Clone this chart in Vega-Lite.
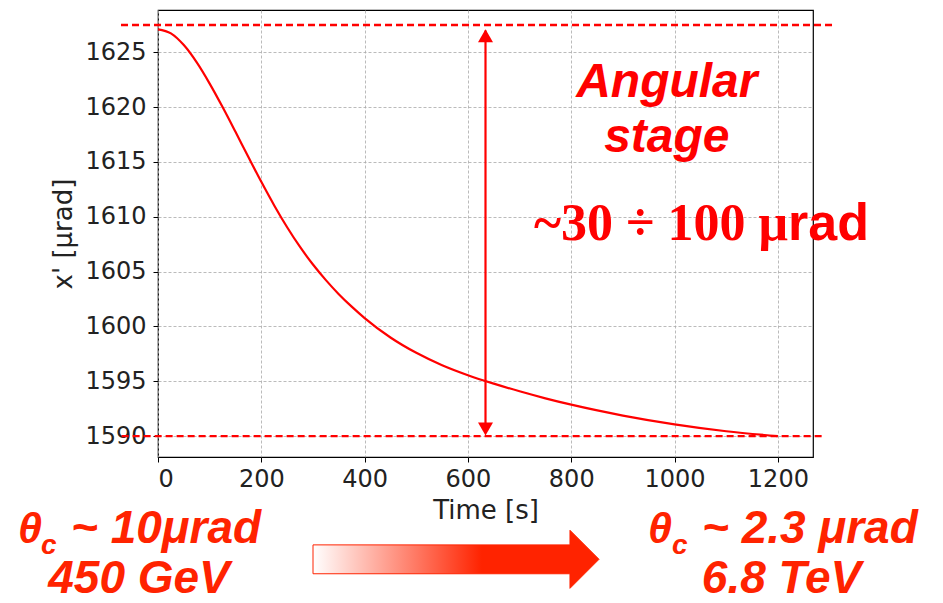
{
  "$schema": "https://vega.github.io/schema/vega-lite/v6.json",
  "width": 655,
  "height": 447,
  "autosize": {"type": "none"},
  "padding": {"left": 158, "top": 10, "right": 130, "bottom": 146},
  "background": "white",
  "config": {
    "view": {"stroke": "black", "strokeWidth": 1.2},
    "axis": {
      "domain": false,
      "grid": true,
      "gridColor": "#aaaaaa",
      "gridDash": [3, 2],
      "gridWidth": 0.8,
      "tickColor": "black",
      "tickSize": 5,
      "tickWidth": 1,
      "labelFont": "DejaVu Sans",
      "labelFontSize": 24,
      "labelColor": "#222222",
      "titleFont": "DejaVu Sans",
      "titleFontSize": 26,
      "titleFontWeight": "normal",
      "titleColor": "#222222"
    }
  },
  "datasets": {
    "curve": [
      {"t": 0, "v": 1627.1},
      {"t": 25, "v": 1626.73},
      {"t": 50, "v": 1625.66},
      {"t": 75, "v": 1624.08},
      {"t": 100, "v": 1622.15},
      {"t": 125, "v": 1620.01},
      {"t": 150, "v": 1617.75},
      {"t": 175, "v": 1615.45},
      {"t": 200, "v": 1613.19},
      {"t": 225, "v": 1611.04},
      {"t": 250, "v": 1609.05},
      {"t": 275, "v": 1607.25},
      {"t": 300, "v": 1605.65},
      {"t": 325, "v": 1604.23},
      {"t": 350, "v": 1602.95},
      {"t": 375, "v": 1601.81},
      {"t": 400, "v": 1600.77},
      {"t": 450, "v": 1599.0},
      {"t": 500, "v": 1597.6},
      {"t": 550, "v": 1596.47},
      {"t": 600, "v": 1595.56},
      {"t": 650, "v": 1594.79},
      {"t": 700, "v": 1594.09},
      {"t": 750, "v": 1593.45},
      {"t": 800, "v": 1592.87},
      {"t": 900, "v": 1591.88},
      {"t": 1000, "v": 1591.08},
      {"t": 1100, "v": 1590.45},
      {"t": 1200, "v": 1590.0}
    ],
    "hlines": [
      {"x": -71.6, "x2": 1306.7, "y": 1627.49},
      {"x": -70.4, "x2": 1285.4, "y": 1590.0}
    ],
    "vline": [{"x": 634, "y": 1627.0, "y2": 1590.3}],
    "heads": [
      {"x": 634, "y": 1626.51, "dir": "up"},
      {"x": 634, "y": 1590.65, "dir": "down"}
    ],
    "stage": [
      {"x": 985, "y": 1620.92, "label": "Angular"},
      {"x": 985, "y": 1615.93, "label": "stage"}
    ],
    "rangeSerif": [{"x": 1219.6, "y": 1607.87, "label": "~30 ÷ 100 μ"}],
    "rangeSans": [{"x": 1219.6, "y": 1607.87, "label": "rad"}],
    "theta": [
      {"x": -271.0, "y": 1580.23, "label": "θ"},
      {"x": 948.6, "y": 1580.23, "label": "θ"}
    ],
    "sub": [
      {"x": -226.5, "y": 1579.3, "label": "c"},
      {"x": 995.0, "y": 1579.3, "label": "c"}
    ],
    "line1": [
      {"x": -168.4, "y": 1580.23, "label": "~ 10μrad"},
      {"x": 1053.2, "y": 1580.23, "label": "~ 2.3 μrad"}
    ],
    "line2": [
      {"x": -36.8, "y": 1575.66, "label": "450 GeV"},
      {"x": 1207.0, "y": 1575.66, "label": "6.8 TeV"}
    ],
    "bigArrow": [{"x": 576.9, "y": 1578.77}]
  },
  "layer": [
    {
      "data": {"name": "curve"},
      "mark": {"type": "line", "color": "#ff0000", "strokeWidth": 2.2, "interpolate": "monotone"},
      "encoding": {
        "x": {
          "field": "t", "type": "quantitative",
          "scale": {"domain": [0, 1268], "nice": false, "zero": false},
          "axis": {"values": [0, 200, 400, 600, 800, 1000, 1200], "title": "Time [s]", "labelPadding": 5, "titlePadding": 6, "format": "d"}
        },
        "y": {
          "field": "v", "type": "quantitative",
          "scale": {"domain": [1588.1, 1628.86], "nice": false, "zero": false},
          "axis": {"values": [1590, 1595, 1600, 1605, 1610, 1615, 1620, 1625], "title": "x' [μrad]", "labelPadding": 7, "titlePadding": 8, "format": "d"}
        }
      }
    },
    {
      "data": {"name": "hlines"},
      "mark": {"type": "rule", "color": "#ff0000", "strokeWidth": 2.3, "strokeDash": [7, 4]},
      "encoding": {
        "x": {"field": "x", "type": "quantitative"},
        "x2": {"field": "x2"},
        "y": {"field": "y", "type": "quantitative"}
      }
    },
    {
      "data": {"name": "vline"},
      "mark": {"type": "rule", "color": "#ff0000", "strokeWidth": 2.2},
      "encoding": {
        "x": {"field": "x", "type": "quantitative"},
        "y": {"field": "y", "type": "quantitative"},
        "y2": {"field": "y2"}
      }
    },
    {
      "data": {"name": "heads"},
      "mark": {"type": "point", "filled": true, "color": "#ff0000", "opacity": 1, "size": 225, "strokeWidth": 0},
      "encoding": {
        "x": {"field": "x", "type": "quantitative"},
        "y": {"field": "y", "type": "quantitative"},
        "shape": {"field": "dir", "type": "nominal", "scale": {"domain": ["up", "down"], "range": ["triangle-up", "triangle-down"]}, "legend": null}
      }
    },
    {
      "data": {"name": "stage"},
      "mark": {"type": "text", "font": "Liberation Sans", "fontWeight": "bold", "fontStyle": "italic", "fontSize": 48, "color": "#ff0000", "align": "center", "baseline": "alphabetic"},
      "encoding": {
        "x": {"field": "x", "type": "quantitative"},
        "y": {"field": "y", "type": "quantitative"},
        "text": {"field": "label"}
      }
    },
    {
      "data": {"name": "rangeSerif"},
      "mark": {"type": "text", "font": "Liberation Serif", "fontWeight": "bold", "fontSize": 52, "color": "#ff0000", "align": "right", "baseline": "alphabetic"},
      "encoding": {
        "x": {"field": "x", "type": "quantitative"},
        "y": {"field": "y", "type": "quantitative"},
        "text": {"field": "label"}
      }
    },
    {
      "data": {"name": "rangeSans"},
      "mark": {"type": "text", "font": "Liberation Sans", "fontWeight": "bold", "fontSize": 52, "color": "#ff0000", "align": "left", "baseline": "alphabetic"},
      "encoding": {
        "x": {"field": "x", "type": "quantitative"},
        "y": {"field": "y", "type": "quantitative"},
        "text": {"field": "label"}
      }
    },
    {
      "data": {"name": "theta"},
      "mark": {"type": "text", "font": "Liberation Sans", "fontWeight": "bold", "fontStyle": "italic", "fontSize": 43, "color": "#ff2300", "align": "left", "baseline": "alphabetic"},
      "encoding": {
        "x": {"field": "x", "type": "quantitative"},
        "y": {"field": "y", "type": "quantitative"},
        "text": {"field": "label"}
      }
    },
    {
      "data": {"name": "sub"},
      "mark": {"type": "text", "font": "Liberation Sans", "fontWeight": "bold", "fontStyle": "italic", "fontSize": 28, "color": "#ff2300", "align": "left", "baseline": "alphabetic"},
      "encoding": {
        "x": {"field": "x", "type": "quantitative"},
        "y": {"field": "y", "type": "quantitative"},
        "text": {"field": "label"}
      }
    },
    {
      "data": {"name": "line1"},
      "mark": {"type": "text", "font": "Liberation Sans", "fontWeight": "bold", "fontStyle": "italic", "fontSize": 46, "color": "#ff2300", "align": "left", "baseline": "alphabetic"},
      "encoding": {
        "x": {"field": "x", "type": "quantitative"},
        "y": {"field": "y", "type": "quantitative"},
        "text": {"field": "label"}
      }
    },
    {
      "data": {"name": "line2"},
      "mark": {"type": "text", "font": "Liberation Sans", "fontWeight": "bold", "fontStyle": "italic", "fontSize": 46, "color": "#ff2300", "align": "center", "baseline": "alphabetic"},
      "encoding": {
        "x": {"field": "x", "type": "quantitative"},
        "y": {"field": "y", "type": "quantitative"},
        "text": {"field": "label"}
      }
    },
    {
      "data": {"name": "bigArrow"},
      "mark": {
        "type": "point",
        "filled": true,
        "opacity": 1,
        "size": 81796,
        "shape": "M-1,-0.101L0.797,-0.101L0.797,-0.203L1,0L0.797,0.203L0.797,0.101L-1,0.101Z",
        "fill": {"gradient": "linear", "x1": 0, "x2": 1, "y1": 0, "y2": 0, "stops": [{"offset": 0, "color": "#ffffff"}, {"offset": 0.59, "color": "#ff2300"}, {"offset": 1, "color": "#ff2300"}]},
        "stroke": "#ff2300",
        "strokeWidth": 1
      },
      "encoding": {
        "x": {"field": "x", "type": "quantitative"},
        "y": {"field": "y", "type": "quantitative"}
      }
    }
  ]
}
